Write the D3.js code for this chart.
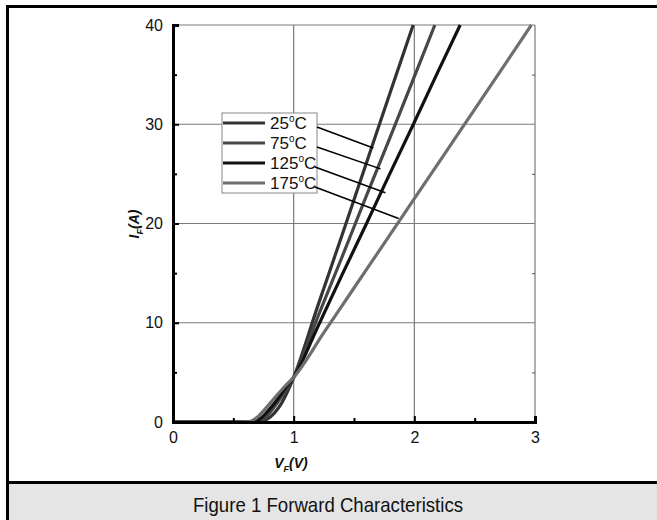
<!DOCTYPE html>
<html>
<head>
<meta charset="utf-8">
<script src="https://cdn.jsdelivr.net/npm/d3@7"></script>
<style>
  body { margin: 0; background: #fff; }
  text { font-family: "Liberation Sans", Arial, sans-serif; }
</style>
</head>
<body>
<svg id="chart" width="657" height="520"></svg>
<script>
const temps = ['25', '75', '125', '175']
const colors = ['#333333', '#474747', '#111111', '#6e6e6e']

// forward voltage (V) / forward current (A)
const curve25 = [[0,0],[0.6,0],[0.72,0.05],[0.78,0.3],[0.84,0.9],[0.9,1.9],[0.95,3.1],[1.0,4.5],[1.2,11.7],[1.4,18.8],[1.6,26.0],[1.8,33.2],[1.99,40]]
const curve75 = [[0,0],[0.6,0],[0.7,0.05],[0.76,0.4],[0.82,1.2],[0.88,2.2],[0.94,3.3],[1.0,4.5],[1.2,10.6],[1.4,16.6],[1.6,22.7],[1.8,28.7],[2.0,34.8],[2.17,40]]
const curve125 = [[0,0],[0.6,0],[0.68,0.05],[0.74,0.5],[0.8,1.3],[0.86,2.2],[0.93,3.4],[1.0,4.5],[1.2,9.6],[1.4,14.8],[1.6,19.9],[1.8,25.1],[2.0,30.2],[2.2,35.4],[2.38,40]]
const curve175 = [[0,0],[0.55,0],[0.63,0.05],[0.7,0.5],[0.77,1.4],[0.84,2.4],[0.92,3.5],[1.0,4.5],[1.25,9.0],[1.5,13.5],[1.75,18.0],[2.0,22.5],[2.25,27.0],[2.5,31.5],[2.75,36.0],[2.97,40]]
const curves = [curve25, curve75, curve125, curve175]

// where each legend pointer touches its curve
const pointerTargets = [[1.66, 27.6], [1.72, 25.5], [1.76, 23.1], [1.87, 20.5]]

const xTicks = [0, 1, 2, 3]
const xMinor = [0.5, 1.5, 2.5]
const yTicks = [0, 10, 20, 30, 40]
const yMinor = [5, 15, 25, 35]

const svg = d3.select('#chart')

// frame
svg.append('rect').attr('x', 8).attr('y', 483).attr('width', 649).attr('height', 37).attr('fill', '#e5e5e5')
svg.append('line').attr('x1', 6).attr('x2', 657).attr('y1', 6.5).attr('y2', 6.5).attr('stroke', '#000').attr('stroke-width', 3)
svg.append('line').attr('x1', 7.5).attr('x2', 7.5).attr('y1', 5).attr('y2', 520).attr('stroke', '#000').attr('stroke-width', 3)
svg.append('line').attr('x1', 6).attr('x2', 657).attr('y1', 482.5).attr('y2', 482.5).attr('stroke', '#000').attr('stroke-width', 3)
svg.append('text').attr('x', 328).attr('y', 512).attr('text-anchor', 'middle')
  .attr('font-size', 21).attr('fill', '#111')
  .attr('textLength', 270).attr('lengthAdjust', 'spacingAndGlyphs')
  .text('Figure 1 Forward Characteristics')

const x = d3.scaleLinear().domain([0, 3]).range([173, 535])
const y = d3.scaleLinear().domain([0, 40]).range([422, 25])

// grid
const grid = svg.append('g').attr('stroke', '#7a7a7a').attr('stroke-width', 1.2)
grid.selectAll('.gx').data(xTicks.slice(1)).join('line')
  .attr('x1', d => x(d)).attr('x2', d => x(d)).attr('y1', y(0)).attr('y2', y(40))
grid.selectAll('.gy').data(yTicks.slice(1)).join('line')
  .attr('x1', x(0)).attr('x2', x(3)).attr('y1', d => y(d)).attr('y2', d => y(d))

// right side mirror ticks
svg.append('g').attr('transform', `translate(${x(3)},0)`)
  .call(d3.axisRight(y).tickValues(yMinor).tickSize(-3).tickFormat(''))
  .call(g => g.select('.domain').remove())
  .selectAll('line').attr('stroke', '#555')

// curves
const line = d3.line().x(d => x(d[0])).y(d => y(d[1])).curve(d3.curveMonotoneX)
svg.append('g').selectAll('path').data(curves).join('path')
  .attr('d', line).attr('fill', 'none')
  .attr('stroke', (d, i) => colors[i]).attr('stroke-width', 3.2)

// axes
const xAxis = svg.append('g').attr('transform', `translate(0,${y(0)})`)
  .call(d3.axisBottom(x).tickValues(xTicks).tickSize(-6).tickPadding(10).tickFormat(d3.format('d')))
xAxis.select('.domain').attr('stroke-width', 3)
xAxis.selectAll('.tick line').attr('stroke-width', 2)
xAxis.selectAll('text').attr('font-size', 16).attr('fill', '#111')
svg.append('g').attr('transform', `translate(0,${y(0)})`)
  .call(d3.axisBottom(x).tickValues(xMinor).tickSize(-4).tickFormat(''))
  .call(g => g.select('.domain').remove())
  .selectAll('line').attr('stroke-width', 2)

const yAxis = svg.append('g').attr('transform', `translate(${x(0)},0)`)
  .call(d3.axisLeft(y).tickValues(yTicks).tickSize(-6).tickPadding(10).tickFormat(d3.format('d')))
yAxis.select('.domain').attr('stroke-width', 3)
yAxis.selectAll('.tick line').attr('stroke-width', 2)
yAxis.selectAll('text').attr('font-size', 16).attr('fill', '#111')
svg.append('g').attr('transform', `translate(${x(0)},0)`)
  .call(d3.axisLeft(y).tickValues(yMinor).tickSize(-4).tickFormat(''))
  .call(g => g.select('.domain').remove())
  .selectAll('line').attr('stroke-width', 2)

// axis titles
const xt = svg.append('text').attr('x', 291).attr('y', 468).attr('text-anchor', 'middle')
  .attr('font-size', 14).attr('font-weight', 'bold').attr('font-style', 'italic').attr('fill', '#111')
xt.append('tspan').text('V')
xt.append('tspan').attr('font-size', 9).attr('dy', 4).text('F')
xt.append('tspan').attr('dy', -4).text('(V)')

const yt = svg.append('text').attr('transform', 'translate(139,224) rotate(-90)').attr('text-anchor', 'middle')
  .attr('font-size', 14).attr('font-weight', 'bold').attr('font-style', 'italic').attr('fill', '#111')
yt.append('tspan').text('I')
yt.append('tspan').attr('font-size', 9).attr('dy', 4).text('F')
yt.append('tspan').attr('dy', -4).text('(A)')

// legend
const lg = { x: 222, y: 113, w: 95, h: 80, row: 20 }
svg.append('rect').attr('x', lg.x).attr('y', lg.y).attr('width', lg.w).attr('height', lg.h)
  .attr('fill', '#fff').attr('stroke', '#888').attr('stroke-width', 1)
const items = svg.append('g').selectAll('g').data(temps).join('g')
  .attr('transform', (d, i) => `translate(${lg.x},${lg.y + 10 + i * lg.row})`)
items.append('line').attr('x1', 1).attr('x2', 43).attr('stroke', (d, i) => colors[i]).attr('stroke-width', 3.2)
const lt = items.append('text').attr('x', 48).attr('y', 6).attr('font-size', 17).attr('fill', '#111')
lt.append('tspan').text(d => d)
lt.append('tspan').attr('font-size', 10).attr('dy', -7).text('o')
lt.append('tspan').attr('dy', 7).text('C')

// pointers from labels to curves
svg.append('g').selectAll('line').data(pointerTargets).join('line')
  .attr('x1', (d, i) => lg.x + lg.w - (i > 1 ? 2 : 0))
  .attr('y1', (d, i) => lg.y + 12 + i * lg.row + 2)
  .attr('x2', d => x(d[0])).attr('y2', d => y(d[1]))
  .attr('stroke', '#000').attr('stroke-width', 1.5)
</script>
</body>
</html>
